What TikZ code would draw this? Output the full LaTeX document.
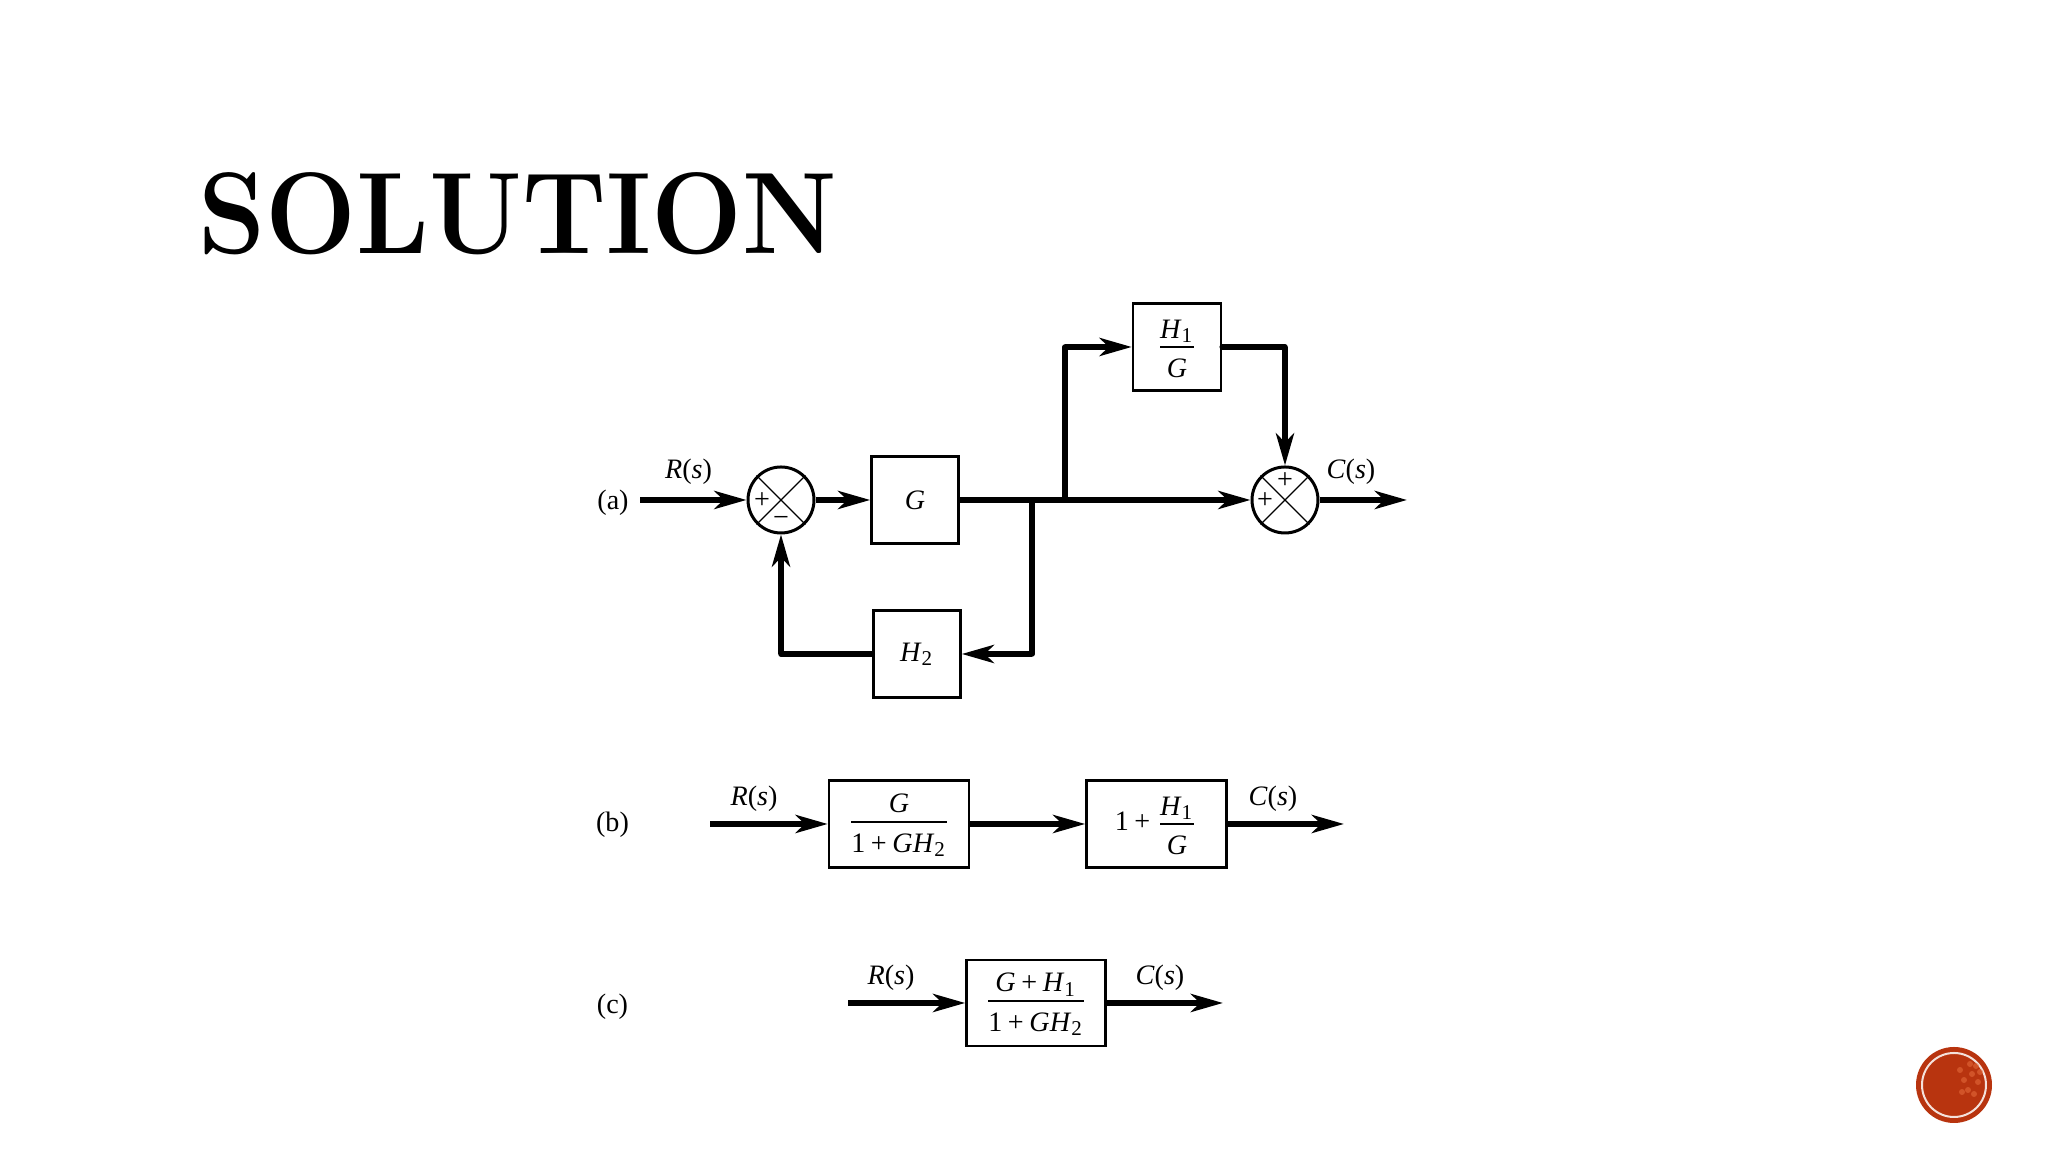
\documentclass[tikz,border=0pt]{standalone}
\usepackage{fontspec}
\setmainfont{Liberation Serif}
\newfontfamily\titlefont{Latin Modern Roman}
\usetikzlibrary{arrows.meta,calc,positioning}

\definecolor{badge}{HTML}{B8340F}
\definecolor{speck}{HTML}{E2693A}

\newcommand{\Rs}{\textit{R}(\textit{s})}
\newcommand{\Cs}{\textit{C}(\textit{s})}
\newcommand{\pl}{\hspace{0.2em}+\hspace{0.2em}}
\newcommand{\ratio}[2]{$\frac{\hbox{\rule[-0.24em]{0pt}{1em}#1}}{\hbox{\rule{0pt}{1.0em}#2}}$}

\begin{document}
\begin{tikzpicture}[
  font=\fontsize{8.0}{10}\selectfont,
  flow/.style={-{Stealth[length=3.2mm,width=1.8mm,inset=0.9mm]}, line width=0.056cm, draw=black},
  wire/.style={line width=0.056cm, draw=black},
  block/.style={draw=black, line width=0.025cm, fill=white, inner sep=0pt, anchor=center},
  sumnode/.style={circle, draw=black, line width=0.03cm, minimum size=0.66cm, inner sep=0pt, fill=white},
  cross/.style={line width=0.012cm, draw=black},
  sign/.style={inner sep=0pt, font=\fontsize{8}{9}\selectfont},
  tag/.style={inner sep=0pt}
]

\useasboundingbox (0,0) rectangle (20.48,11.52);

% Rows measured from the bottom of the slide.
\def\ya{6.52}
\def\yb{3.28}
\def\yc{1.49}
\def\yup{8.05}
\def\ylo{4.98}

% Title.
\node[inner sep=0pt, anchor=base west, xscale=0.928, transform shape, font=\titlefont\fontsize{33}{36}\selectfont\bfseries] (title) at (1.98,8.98) {SOLUTION};

% Diagram (a).
\node[tag] (taga) at (6.13,6.49) {(a)};
\coordinate (ina) at (6.40,\ya);
\node[sumnode] (suma) at (7.81,\ya) {};
\node[block, minimum width=0.87cm, minimum height=0.87cm] (gain) at (9.15,\ya) {\textit{G}};
\node[block, minimum width=0.88cm, minimum height=0.87cm] (hone) at (11.77,\yup) {\ratio{\textit{H}\textsubscript{1}}{\textit{G}}};
\node[block, minimum width=0.87cm, minimum height=0.87cm] (htwo) at (9.17,\ylo) {\textit{H}\textsubscript{2}};
\node[sumnode] (sumb) at (12.85,\ya) {};
\coordinate (outa) at (14.07,\ya);
\coordinate (upj) at (10.65,\ya);
\coordinate (loj) at (10.32,\ya);
\coordinate (upc) at (10.65,\yup);
\coordinate (loc) at (10.32,\ylo);
\coordinate (hor) at (12.85,\yup);
\coordinate (hol) at (7.81,\ylo);

\foreach \s in {suma,sumb} {
  \draw[cross] (\s.45) -- (\s.225);
  \draw[cross] (\s.135) -- (\s.315);
}
\node[sign] (pa) at ($(suma.center)+(-0.19,-0.005)$) {+};
\node[sign] (ma) at ($(suma.center)+(0,-0.21)$) {\textminus};
\node[sign] (pb) at ($(sumb.center)+(-0.20,-0.005)$) {+};
\node[sign] (pc) at ($(sumb.center)+(0,0.19)$) {+};

\draw[flow] (ina) -- (suma.west);
\draw[flow] (suma.east) -- (gain.west);
\draw[flow] (gain.east) -- (sumb.west);
\draw[wire, line cap=round] (upj) -- (upc);
\draw[flow] (upc) -- (hone.west);
\draw[wire, line cap=round] (hone.east) -- (hor);
\draw[flow] (hor) -- (sumb.north);
\draw[wire, line cap=round] (loj) -- (loc);
\draw[flow] (loc) -- (htwo.east);
\draw[wire, line cap=round] (htwo.west) -- (hol);
\draw[flow] (hol) -- (suma.south);
\draw[flow] (sumb.east) -- (outa);

\node[tag] (ra) at (6.885,6.80) {\Rs};
\node[tag] (ca) at (13.51,6.80) {\Cs};

% Diagram (b).
\node[tag] (tagb) at (6.125,3.27) {(b)};
\coordinate (inb) at (7.10,\yb);
\node[block, minimum width=1.40cm, minimum height=0.87cm] (fwd) at (8.99,\yb) {\ratio{\textit{G}}{1\pl\textit{GH}\textsubscript{2}}};
\node[block, minimum width=1.40cm, minimum height=0.87cm] (par) at (11.565,\yb) {1\pl\ratio{\textit{H}\textsubscript{1}}{\textit{G}}};
\coordinate (outb) at (13.44,\yb);
\draw[flow] (inb) -- (fwd.west);
\draw[flow] (fwd.east) -- (par.west);
\draw[flow] (par.east) -- (outb);
\node[tag] (rb) at (7.54,3.53) {\Rs};
\node[tag] (cb) at (12.73,3.53) {\Cs};

% Diagram (c).
\node[tag] (tagc) at (6.125,1.45) {(c)};
\coordinate (inc) at (8.48,\yc);
\node[block, minimum width=1.39cm, minimum height=0.86cm] (tot) at (10.36,\yc) {\ratio{\textit{G}\pl\textit{H}\textsubscript{1}}{1\pl\textit{GH}\textsubscript{2}}};
\coordinate (outc) at (12.23,\yc);
\draw[flow] (inc) -- (tot.west);
\draw[flow] (tot.east) -- (outc);
\node[tag] (rc) at (8.91,1.74) {\Rs};
\node[tag] (cc) at (11.60,1.74) {\Cs};

% Corner badge.
\fill[badge] (19.54,0.67) circle (0.38);
\draw[white!85!badge, line width=0.02cm] (19.54,0.67) circle (0.32);
\foreach \a/\b in {19.72/0.78,19.78/0.70,19.68/0.62,19.74/0.58,19.64/0.72,19.80/0.80,19.60/0.82,19.70/0.88,19.62/0.60,19.76/0.86} {
  \fill[speck, opacity=0.6] (\a,\b) circle (0.03);
}

\end{tikzpicture}
\end{document}
